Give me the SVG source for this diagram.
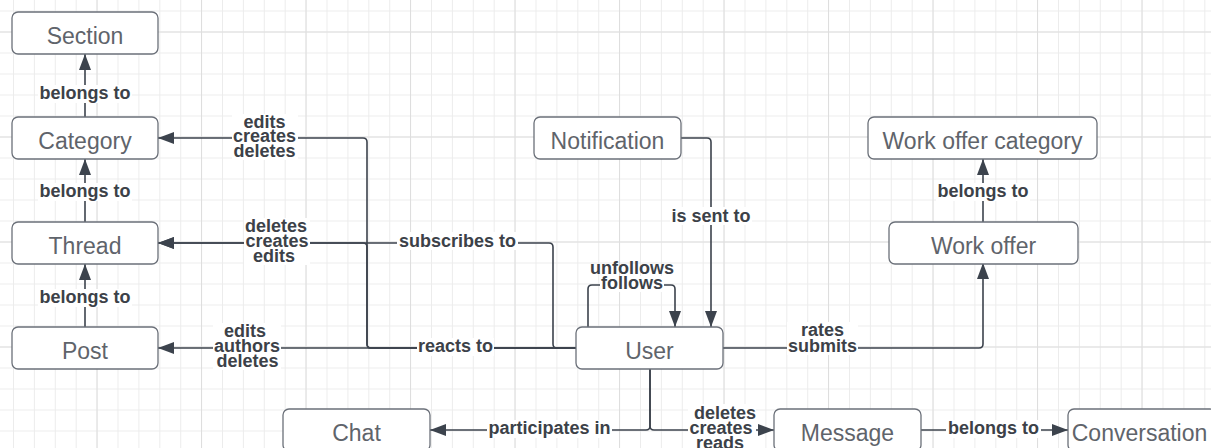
<svg xmlns="http://www.w3.org/2000/svg" width="1211" height="448" viewBox="0 0 1211 448">
<style>
.node rect{fill:#ffffff;stroke:#6b7079;stroke-width:1.3}
.node text{font-family:"Liberation Sans",Arial,sans-serif;font-size:23px;fill:#5f646b;text-anchor:middle}
.conn path{fill:none;stroke:#3c434d;stroke-width:1.6}
.lbl rect{fill:#ffffff}
.lbl text{font-family:"Liberation Sans",Arial,sans-serif;font-size:18px;font-weight:bold;fill:#3c4148;text-anchor:middle}
</style>
<defs>
<pattern id="g1" x="13" y="10.5" width="20.9" height="21" patternUnits="userSpaceOnUse">
<path d="M0.5,0 V21 M0,0.5 H20.9" stroke="#ececec" stroke-width="1"/>
</pattern>
<pattern id="g2" x="96.5" y="31.5" width="104.5" height="105" patternUnits="userSpaceOnUse">
<path d="M0.5,0 V105 M0,0.5 H104.5" stroke="#dedede" stroke-width="1"/>
</pattern>
<marker id="arr" viewBox="0 0 16 12" refX="16" refY="6" markerWidth="16" markerHeight="12" markerUnits="userSpaceOnUse" orient="auto">
<path d="M0,0 L16,6 L0,12 z" fill="#3c434d"/>
</marker>
</defs>
<rect width="1211" height="448" fill="#ffffff"/>
<rect width="1211" height="448" fill="url(#g1)"/>
<rect width="1211" height="448" fill="url(#g2)"/>

<g id="connectors" class="conn">
<path d="M85,117 V54" marker-end="url(#arr)"/>
<path d="M85,222 V159" marker-end="url(#arr)"/>
<path d="M85,327 V264" marker-end="url(#arr)"/>
<path d="M576,348 H158" marker-end="url(#arr)"/>
<path d="M576,348 H371 Q367,348 367,344 V142 Q367,138 363,138 H158" marker-end="url(#arr)"/>
<path d="M576,348 H371 Q367,348 367,344 V247 Q367,243 363,243 H158" marker-end="url(#arr)"/>
<path d="M576,348 H557 Q553,348 553,344 V247 Q553,243 549,243 H158" marker-end="url(#arr)"/>
<path d="M681,138 H707 Q711,138 711,142 V327" marker-end="url(#arr)"/>
<path d="M588,327 V289 Q588,285 592,285 H671 Q675,285 675,289 V327" marker-end="url(#arr)"/>
<path d="M723,348 H979 Q983,348 983,344 V263" marker-end="url(#arr)"/>
<path d="M983,222 V159" marker-end="url(#arr)"/>
<path d="M650,369 V426 Q650,430 646,430 H430" marker-end="url(#arr)"/>
<path d="M650,369 V426 Q650,430 654,430 H774" marker-end="url(#arr)"/>
<path d="M921,430 H1068" marker-end="url(#arr)"/>
</g>

<g id="labels" class="lbl">
<rect x="38" y="85" width="94" height="18"/><text x="85" y="99">belongs to</text>
<rect x="38" y="183" width="94" height="18"/><text x="85" y="197">belongs to</text>
<rect x="38" y="289" width="94" height="18"/><text x="85" y="303">belongs to</text>
<rect x="232" y="114" width="66" height="46"/>
<text x="264.5" y="127.5">edits</text><text x="264.5" y="142">creates</text><text x="264.5" y="156.5">deletes</text>
<rect x="244" y="218" width="66" height="47"/>
<text x="276" y="231.5">deletes</text><text x="277" y="246.5">creates</text><text x="274" y="261.5">edits</text>
<rect x="213" y="323" width="68" height="47"/>
<text x="245" y="336.5">edits</text><text x="247" y="351.5">authors</text><text x="247.5" y="366.5">deletes</text>
<rect x="397" y="232" width="121" height="18"/><text x="457.5" y="246.5">subscribes to</text>
<rect x="417" y="338" width="77" height="18"/><text x="455.5" y="352">reacts to</text>
<rect x="670" y="207" width="82" height="18"/><text x="711" y="221.5">is sent to</text>
<rect x="600" y="276" width="64" height="16"/>
<text x="632" y="273.5">unfollows</text><text x="632" y="288.5">follows</text>
<rect x="787" y="322" width="71" height="33"/>
<text x="822.5" y="336">rates</text><text x="822.5" y="351.5">submits</text>
<rect x="936" y="183" width="94" height="18"/><text x="983" y="197">belongs to</text>
<rect x="487" y="420" width="125" height="18"/><text x="549.5" y="434">participates in</text>
<rect x="688" y="404" width="68" height="46"/>
<text x="725" y="418.5">deletes</text><text x="721" y="433.5">creates</text><text x="720" y="448.5">reads</text>
<rect x="946" y="420" width="95" height="18"/><text x="993.5" y="434">belongs to</text>
</g>

<g id="section" class="node"><rect x="12" y="12" width="146" height="42" rx="6"/><text x="85" y="44">Section</text></g>
<g id="category" class="node"><rect x="12" y="117" width="146" height="42" rx="6"/><text x="85" y="149">Category</text></g>
<g id="thread" class="node"><rect x="12" y="222" width="146" height="42" rx="6"/><text x="85" y="254">Thread</text></g>
<g id="post" class="node"><rect x="12" y="327" width="146" height="42" rx="6"/><text x="85" y="359">Post</text></g>
<g id="notification" class="node"><rect x="534" y="117" width="147" height="42" rx="6"/><text x="607.5" y="149">Notification</text></g>
<g id="user" class="node"><rect x="576" y="327" width="147" height="42" rx="6"/><text x="649.5" y="359">User</text></g>
<g id="work-offer-category" class="node"><rect x="868" y="117" width="229" height="42" rx="6"/><text x="982.5" y="149">Work offer category</text></g>
<g id="work-offer" class="node"><rect x="889" y="222" width="189" height="42" rx="6"/><text x="983.5" y="254">Work offer</text></g>
<g id="chat" class="node"><rect x="283" y="409" width="147" height="42" rx="6"/><text x="356.5" y="441">Chat</text></g>
<g id="message" class="node"><rect x="774" y="409" width="147" height="42" rx="6"/><text x="847.5" y="441">Message</text></g>
<g id="conversation" class="node"><rect x="1068" y="409" width="148" height="42" rx="6"/><text x="1139.5" y="441">Conversation</text></g>
</svg>
